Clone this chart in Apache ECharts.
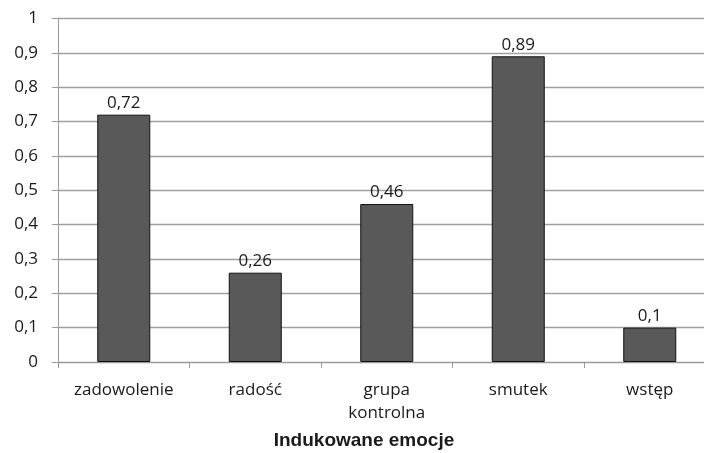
<!DOCTYPE html>
<html><head><meta charset="utf-8">
<script src="https://cdn.jsdelivr.net/npm/echarts@6/dist/echarts.min.js"></script>
<style>html,body{margin:0;padding:0;background:#fff;overflow:hidden;width:704px;height:453px}#c{width:716px;height:453px}</style>
</head><body><div id="c"></div>
<script>
var categories = ['zadowolenie', 'radość', 'grupa\nkontrolna', 'smutek', 'wstęp'];
var values = [0.72, 0.26, 0.46, 0.89, 0.1];
var axisTitle = 'Indukowane emocje';
var fmt = function (v) { return String(+v.toFixed(2)).replace('.', ','); };
var chart = echarts.init(document.getElementById('c'), null, {renderer: 'canvas'});
chart.setOption({
  animation: false,
  backgroundColor: '#fff',
  grid: {left: 58, top: 18.5, right: 0.5, bottom: 91},
  xAxis: {
    type: 'category', data: categories,
    axisLine: {lineStyle: {color: '#999', width: 1}},
    axisTick: {show: true, length: 6, interval: 0, lineStyle: {color: '#999'}},
    axisLabel: {color: '#1a1a1a', fontFamily: 'Open Sans', fontSize: 17, margin: 17, lineHeight: 23, interval: 0}
  },
  yAxis: {
    type: 'value', min: 0, max: 1, interval: 0.1,
    axisLine: {show: true, lineStyle: {color: '#999', width: 1}},
    axisTick: {show: true, length: 6, lineStyle: {color: '#999'}},
    splitLine: {lineStyle: {color: '#a0a0a0', width: 1.3}},
    axisLabel: {color: '#1a1a1a', fontFamily: 'Open Sans', fontSize: 17, margin: 20, formatter: fmt}
  },
  graphic: [{
    type: 'text', x: 364, y: 441,
    style: {text: axisTitle, font: 'bold 19px "Liberation Sans", Arial', fill: '#1a1a1a', align: 'center', verticalAlign: 'middle'}
  }],
  series: [{
    type: 'bar', data: values, barWidth: 53,
    itemStyle: {color: '#595959', borderColor: '#111', borderWidth: 1},
    label: {show: true, position: 'top', distance: 3, color: '#1a1a1a', fontFamily: 'Open Sans', fontSize: 17,
      formatter: function (p) { return fmt(p.value); }}
  }]
});
</script></body></html>
